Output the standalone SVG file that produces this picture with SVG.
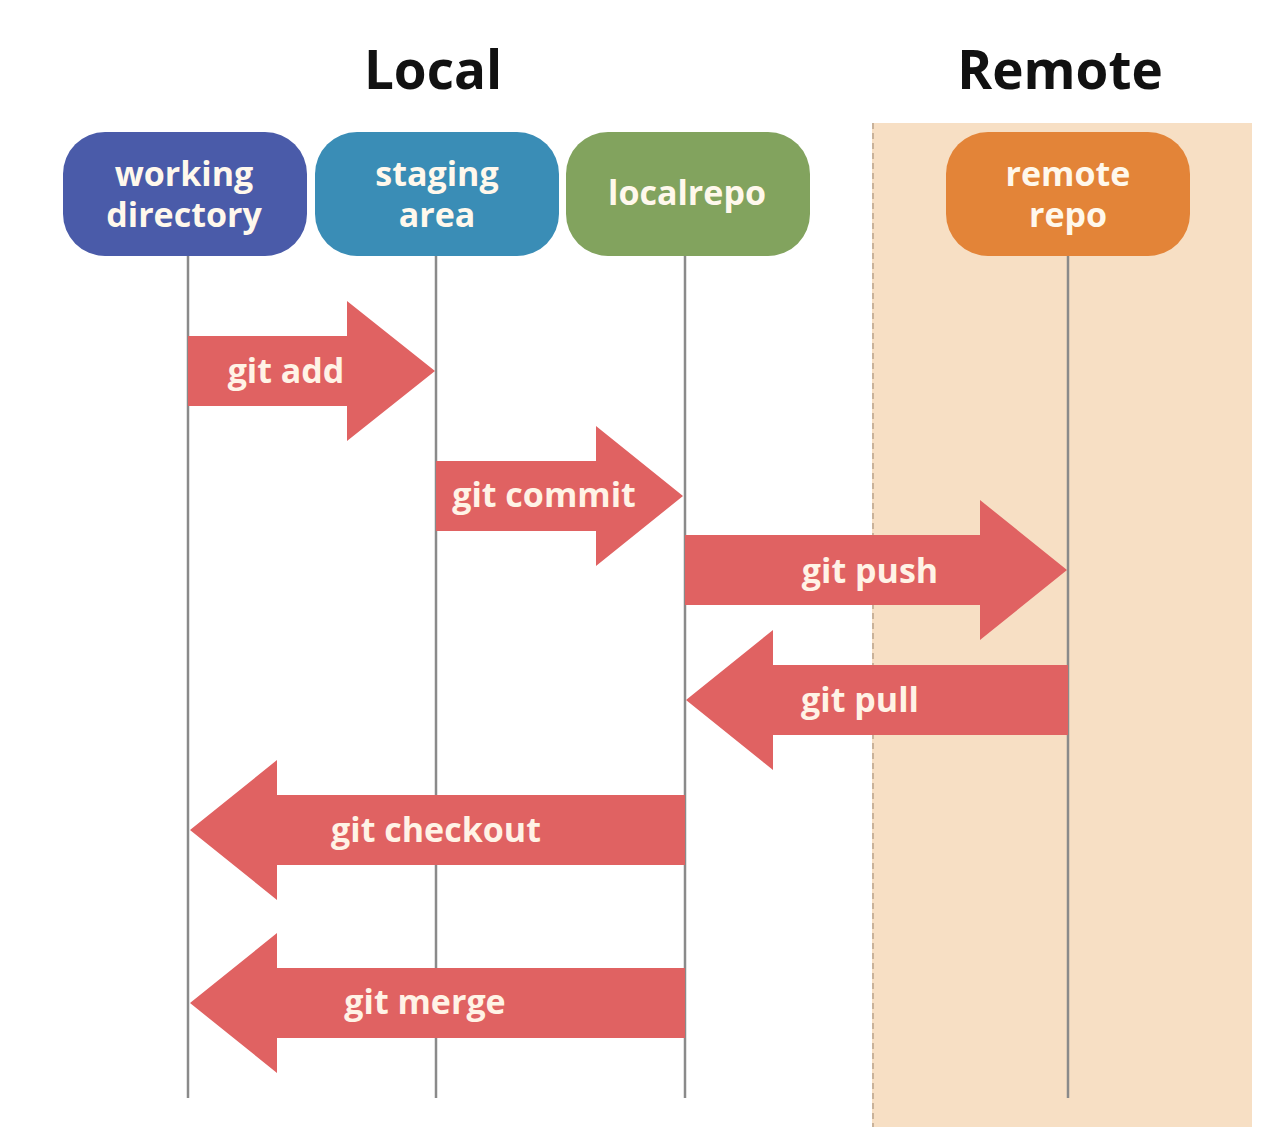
<svg xmlns="http://www.w3.org/2000/svg" width="1274" height="1146" viewBox="0 0 1274 1146">
<style>
.hdr{font-family:"Open Sans","Liberation Sans",sans-serif;font-weight:700;font-size:53px;fill:#111;text-anchor:middle}
.nt{font-family:"Open Sans","Liberation Sans",sans-serif;font-weight:700;font-size:34px;fill:#FFF8EC;text-anchor:middle}
.at{font-family:"Open Sans","Liberation Sans",sans-serif;font-weight:700;font-size:34px;fill:#FFF3E6;text-anchor:middle}
.life{stroke:#8A8A8A;stroke-width:2.5;fill:none}
.arr{fill:#E06262}
</style>
<rect width="1274" height="1146" fill="#FFFFFF"/>
<g id="remote-panel">
<rect x="872" y="123" width="380" height="1004" fill="#F7DFC4"/>
<line x1="873" y1="123" x2="873" y2="1127" stroke="#C9B29A" stroke-width="2" stroke-dasharray="6,4"/>
</g>
<text class="hdr" x="433" y="89">Local</text>
<text class="hdr" x="1060" y="89">Remote</text>
<g id="lifelines">
<line class="life" x1="188" y1="256" x2="188" y2="1098"/>
<line class="life" x1="436" y1="256" x2="436" y2="1098"/>
<line class="life" x1="685" y1="256" x2="685" y2="1098"/>
<line class="life" x1="1068" y1="256" x2="1068" y2="1098"/>
</g>
<g id="node-working-directory">
<rect x="63" y="132" width="244" height="124" rx="42" fill="#4A5BA9"/>
<text class="nt" x="184" y="186">working</text>
<text class="nt" x="184" y="227">directory</text>
</g>
<g id="node-staging-area">
<rect x="315" y="132" width="244" height="124" rx="42" fill="#3A8DB6"/>
<text class="nt" x="437" y="186">staging</text>
<text class="nt" x="437" y="227">area</text>
</g>
<g id="node-localrepo">
<rect x="566" y="132" width="244" height="124" rx="42" fill="#82A35E"/>
<text class="nt" x="687" y="205">localrepo</text>
</g>
<g id="node-remote-repo">
<rect x="946" y="132" width="244" height="124" rx="42" fill="#E38438"/>
<text class="nt" x="1068" y="186">remote</text>
<text class="nt" x="1068" y="227">repo</text>
</g>
<g id="connectors">
<g id="git-add">
<polygon class="arr" points="188,336 347,336 347,301 435,371 347,441 347,406 188,406"/>
<text class="at" x="286" y="383">git add</text>
</g>
<g id="git-commit">
<polygon class="arr" points="436,461 596,461 596,426 683,496 596,566 596,531 436,531"/>
<text class="at" x="544" y="507">git commit</text>
</g>
<g id="git-push">
<polygon class="arr" points="685,535 980,535 980,500 1067,570 980,640 980,605 685,605"/>
<text class="at" x="870" y="583">git push</text>
</g>
<g id="git-pull">
<polygon class="arr" points="1068,665 773,665 773,630 686,700 773,770 773,735 1068,735"/>
<text class="at" x="860" y="712">git pull</text>
</g>
<g id="git-checkout">
<polygon class="arr" points="685,795 277,795 277,760 190,830 277,900 277,865 685,865"/>
<text class="at" x="436" y="842">git checkout</text>
</g>
<g id="git-merge">
<polygon class="arr" points="685,968 277,968 277,933 190,1003 277,1073 277,1038 685,1038"/>
<text class="at" x="425" y="1014">git merge</text>
</g>
</g>
</svg>
